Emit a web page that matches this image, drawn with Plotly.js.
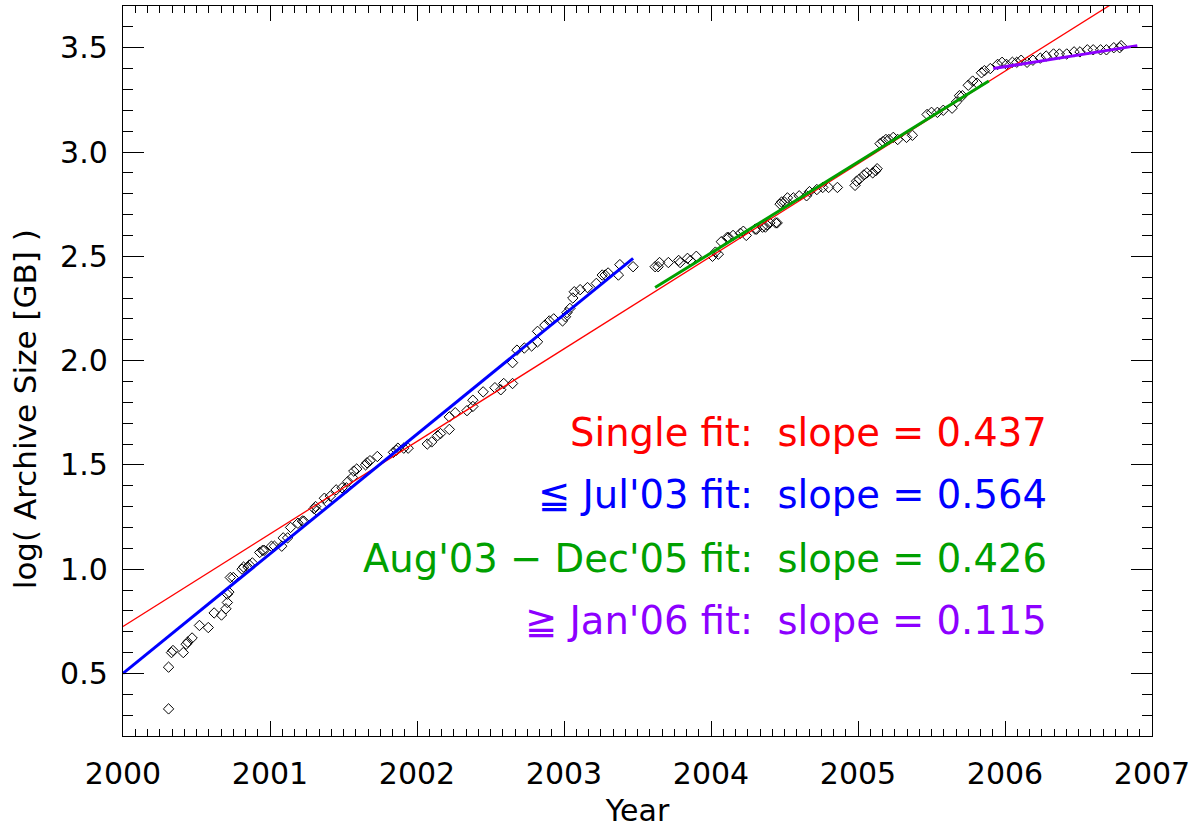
<!DOCTYPE html>
<html>
<head>
<meta charset="utf-8">
<script src="https://cdn.plot.ly/plotly-3.0.1.min.js"></script>
<style>html,body{margin:0;padding:0;background:#fff;}#chart{width:1195px;height:828px;}</style>
</head>
<body>
<div id="chart"></div>
<script>
// Archive size measurements (decimal year, log10 size in GB)
const obsYear = [
2000.31,2000.31,2000.33,2000.34,2000.41,2000.43,2000.44,2000.47,2000.52,2000.58,
2000.62,2000.67,2000.70,2000.71,2000.71,2000.72,2000.73,2000.75,2000.81,2000.82,
2000.85,2000.86,2000.88,2000.93,2000.95,2000.96,2001.01,2001.03,2001.08,2001.09,
2001.12,2001.14,2001.19,2001.22,2001.23,2001.30,2001.31,2001.32,2001.37,2001.39,
2001.41,2001.45,2001.49,2001.52,2001.53,2001.56,2001.57,2001.59,2001.65,2001.66,
2001.68,2001.73,2001.84,2001.86,2001.87,2001.91,2001.94,2002.07,2002.10,2002.14,
2002.16,2002.22,2002.22,2002.26,2002.34,2002.38,2002.38,2002.45,2002.53,2002.57,
2002.59,2002.65,2002.65,2002.68,2002.73,2002.78,2002.82,2002.82,2002.87,2002.90,
2002.93,2002.99,2003.01,2003.02,2003.04,2003.06,2003.07,2003.11,2003.16,2003.22,
2003.26,2003.28,2003.30,2003.37,2003.38,2003.47,
2003.62,2003.64,2003.65,2003.71,2003.78,2003.79,2003.84,2003.86,2003.90,2004.01,
2004.03,2004.05,2004.07,2004.11,2004.12,2004.15,2004.20,2004.22,2004.24,2004.30,
2004.31,2004.35,2004.37,2004.38,2004.40,2004.44,2004.45,2004.47,2004.48,2004.50,
2004.52,2004.56,2004.60,2004.65,2004.67,2004.72,2004.76,2004.80,2004.86,
2004.98,2004.99,2005.01,2005.04,2005.06,2005.10,2005.12,2005.13,2005.15,2005.17,
2005.19,2005.21,2005.24,2005.27,2005.33,2005.37,2005.47,2005.50,2005.54,2005.58,
2005.64,2005.67,2005.69,2005.71,2005.75,2005.78,2005.81,2005.84,2005.86,2005.90,
2005.95,2005.98,2006.01,2006.05,2006.08,2006.11,2006.15,2006.19,2006.24,2006.28,
2006.33,2006.37,2006.42,2006.47,2006.51,2006.56,2006.60,2006.65,2006.69,2006.74,
2006.78,2006.79
];
const obsLogSize = [
0.33,0.53,0.60,0.61,0.60,0.64,0.65,0.67,0.73,0.72,
0.79,0.78,0.81,0.84,0.88,0.89,0.96,0.96,1.00,1.01,
1.01,1.02,1.03,1.08,1.09,1.09,1.11,1.11,1.11,1.15,
1.15,1.20,1.22,1.23,1.23,1.29,1.30,1.28,1.34,1.32,
1.35,1.38,1.39,1.39,1.42,1.44,1.47,1.48,1.50,1.51,
1.52,1.54,1.56,1.57,1.58,1.58,1.58,1.60,1.61,1.64,
1.65,1.67,1.73,1.75,1.76,1.78,1.81,1.85,1.87,1.86,
1.89,1.89,1.99,2.05,2.06,2.07,2.09,2.14,2.17,2.19,
2.20,2.19,2.21,2.23,2.25,2.30,2.33,2.34,2.35,2.37,
2.41,2.41,2.42,2.41,2.46,2.45,
2.45,2.45,2.47,2.47,2.48,2.47,2.49,2.48,2.50,2.50,
2.52,2.51,2.57,2.59,2.59,2.60,2.61,2.62,2.60,2.63,
2.63,2.64,2.64,2.65,2.66,2.66,2.66,2.75,2.76,2.76,
2.78,2.78,2.79,2.79,2.81,2.82,2.83,2.83,2.83,
2.84,2.86,2.87,2.89,2.90,2.90,2.91,2.92,3.04,3.05,
3.06,3.06,3.07,3.06,3.07,3.08,3.18,3.19,3.19,3.20,
3.21,3.24,3.27,3.27,3.32,3.34,3.33,3.38,3.39,3.40,
3.42,3.43,3.42,3.43,3.43,3.44,3.43,3.44,3.45,3.46,
3.47,3.47,3.47,3.48,3.48,3.49,3.49,3.49,3.49,3.50,
3.50,3.51
];

// Fit line endpoints
const singleFitYear = [2000.0, 2006.75];
const singleFitVal  = [0.725, 3.72];
const earlyFitYear  = [2000.0, 2003.47];
const earlyFitVal   = [0.50, 2.49];
const midFitYear    = [2003.62, 2005.89];
const midFitVal     = [2.35, 3.34];
const lateFitYear   = [2005.92, 2006.90];
const lateFitVal    = [3.40, 3.51];

// Texts
const xTitle = "Year";
const yTitle = "log( Archive Size [GB] )";
const fitLabels = [
  "Single fit:  slope = 0.437",
  "≦ Jul'03 fit:  slope = 0.564",
  "Aug'03 − Dec'05 fit:  slope = 0.426",
  "≧ Jan'06 fit:  slope = 0.115"
];
const fitColors = ["#ff0000", "#0000ff", "#00a000", "#8c00ff"];
const labelYear = 2006.30;
const labelVals = [1.654, 1.356, 1.053, 0.755];

const FONT = "DejaVu Sans, sans-serif";

const traces = [
  {x: obsYear, y: obsLogSize, mode: "markers", type: "scatter",
   marker: {symbol: "diamond-open", size: 8, color: "#000", line: {width: 1, color: "#000"}},
   hoverinfo: "x+y", showlegend: false},
  {x: singleFitYear, y: singleFitVal, mode: "lines", type: "scatter",
   line: {color: fitColors[0], width: 1.3}, showlegend: false},
  {x: earlyFitYear, y: earlyFitVal, mode: "lines", type: "scatter",
   line: {color: fitColors[1], width: 3}, showlegend: false},
  {x: midFitYear, y: midFitVal, mode: "lines", type: "scatter",
   line: {color: fitColors[2], width: 3}, showlegend: false},
  {x: lateFitYear, y: lateFitVal, mode: "lines", type: "scatter",
   line: {color: fitColors[3], width: 3}, showlegend: false}
];

const annotations = fitLabels.map((t, i) => ({
  x: labelYear, y: labelVals[i], xref: "x", yref: "y",
  text: t, showarrow: false, xanchor: "right", yanchor: "middle",
  font: {family: FONT, size: 38.5, color: fitColors[i]}
}));
// y-axis title placed as a rotated annotation (slightly below axis centre, as in the original)
annotations.push({
  x: -0.095, y: 0.448, xref: "paper", yref: "paper",
  text: yTitle, textangle: -90, showarrow: false,
  xanchor: "center", yanchor: "middle",
  font: {family: FONT, size: 31, color: "#000"}
});

const layout = {
  width: 1195, height: 828,
  margin: {l: 123, r: 43, t: 6, b: 92},
  paper_bgcolor: "#fff", plot_bgcolor: "#fff",
  font: {family: FONT, size: 30, color: "#000"},
  showlegend: false,
  xaxis: {
    range: [2000, 2007], tickmode: "linear", tick0: 2000, dtick: 1,
    tickformat: "d",
    ticks: "inside", ticklen: 15, tickwidth: 1, tickcolor: "#000",
    minor: {dtick: 1/12, ticks: "inside", ticklen: 7, tickwidth: 1, tickcolor: "#000"},
    showline: true, linecolor: "#000", linewidth: 1.2, mirror: "ticks",
    showgrid: false, zeroline: false,
    tickfont: {family: FONT, size: 30, color: "#000"},
    ticklabelstandoff: 11,
    title: {text: xTitle, font: {family: FONT, size: 30, color: "#000"}, standoff: 16}
  },
  yaxis: {
    range: [0.2, 3.7], tickmode: "linear", tick0: 0.5, dtick: 0.5,
    tickformat: ".1f",
    ticks: "inside", ticklen: 21, tickwidth: 1, tickcolor: "#000",
    minor: {dtick: 0.1, ticks: "inside", ticklen: 10, tickwidth: 1, tickcolor: "#000"},
    showline: true, linecolor: "#000", linewidth: 1.2, mirror: "ticks",
    showgrid: false, zeroline: false,
    tickfont: {family: FONT, size: 30, color: "#000"},
    ticklabelstandoff: 8,
    title: {text: ""}
  },
  annotations: annotations
};

Plotly.newPlot("chart", traces, layout, {displayModeBar: false, staticPlot: true});
</script>
</body>
</html>
